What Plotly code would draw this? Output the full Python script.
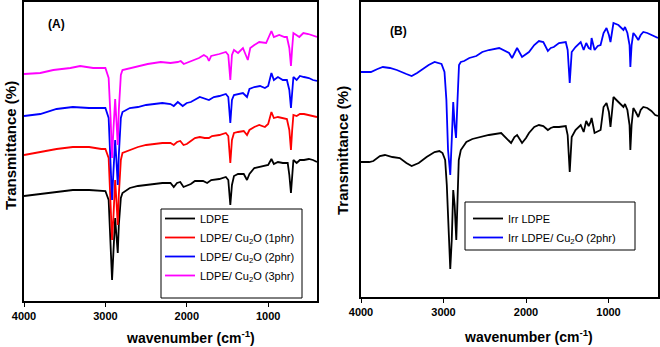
import plotly.graph_objects as go

# ---------------- data (transmittance, arbitrary units, offset spectra) ----------------
# Panel (A)
wn_ldpe = [4000, 3800, 3600, 3400, 3200, 3050, 3000, 2960, 2935, 2918, 2900, 2880, 2865, 2848, 2835, 2810, 2790,
           2700, 2600, 2500, 2400, 2300, 2200, 2160, 2120, 2080, 2040, 2000, 1950, 1900, 1800, 1750, 1700, 1600,
           1520, 1490, 1465, 1445, 1420, 1370, 1300, 1260, 1230, 1170, 1100, 1030, 1000, 960, 930, 880, 820, 760,
           740, 720, 705, 690, 650, 610, 560, 500, 450, 400]
t_ldpe = [104, 106, 108, 110, 110, 109, 109, 100, 60, 20, 50, 82, 65, 47, 75, 102, 107,
          112, 114, 115, 116, 117, 117, 113, 117, 118, 113, 114, 116, 119, 119, 117, 120, 121,
          123, 120, 95, 115, 124, 126, 126, 120, 126, 132, 133, 134, 135, 141, 136, 138, 137, 137,
          125, 107, 125, 140, 137, 140, 140, 141, 140, 138]

wn_cu1 = [4000, 3800, 3600, 3400, 3200, 3050, 3000, 2960, 2935, 2918, 2900, 2880, 2865, 2848, 2835, 2810, 2790,
          2700, 2600, 2500, 2400, 2300, 2200, 2160, 2120, 2080, 2040, 2000, 1950, 1900, 1840, 1780, 1728, 1690,
          1600, 1520, 1490, 1465, 1445, 1420, 1370, 1300, 1260, 1230, 1170, 1110, 1040, 1000, 960, 930, 880, 820,
          770, 740, 720, 705, 690, 650, 610, 560, 500, 450, 400]
t_cu1 = [145, 148, 151, 153, 153, 151, 151, 142, 100, 60, 85, 120, 100, 75, 105, 140, 147,
         150, 153, 155, 156, 157, 157, 155, 158, 159, 155, 156, 159, 162, 163, 162, 162, 164,
         165, 167, 164, 137, 160, 167, 168, 169, 165, 170, 173, 175, 173, 176, 188, 182, 183, 182,
         181, 170, 150, 170, 185, 184, 186, 186, 185, 184, 183]

wn_cu2 = [4000, 3800, 3600, 3400, 3200, 3050, 3000, 2960, 2935, 2918, 2900, 2880, 2865, 2848, 2835, 2810, 2790,
          2700, 2600, 2500, 2400, 2300, 2200, 2160, 2110, 2050, 2000, 1950, 1840, 1780, 1728, 1667, 1600, 1520,
          1490, 1465, 1445, 1420, 1370, 1310, 1260, 1230, 1170, 1100, 1040, 1000, 960, 930, 880, 820, 770,
          740, 720, 705, 690, 650, 610, 560, 500, 450, 400]
t_cu2 = [184, 186, 191, 193, 192, 192, 192, 182, 140, 100, 130, 160, 140, 115, 145, 182, 188,
         192, 193, 195, 196, 197, 196, 194, 198, 194, 197, 198, 203, 201, 200, 203, 204, 206,
         203, 177, 200, 205, 206, 207, 203, 211, 213, 214, 212, 214, 227, 220, 223, 220, 220,
         210, 192, 210, 223, 220, 224, 223, 222, 220, 219]

wn_cu3 = [4000, 3800, 3640, 3430, 3310, 3150, 3000, 2960, 2935, 2918, 2900, 2880, 2865, 2848, 2835, 2810, 2790,
          2650, 2480, 2320, 2200, 2110, 2074, 2037, 1950, 1850, 1790, 1750, 1728, 1700, 1600, 1520, 1490, 1465,
          1445, 1420, 1370, 1310, 1250, 1220, 1170, 1110, 1025, 960, 930, 864, 800, 770, 740, 720, 705, 690,
          617, 568, 506, 432, 400]
t_cu3 = [226, 227, 230, 232, 234, 232, 232, 222, 180, 142, 172, 201, 180, 155, 190, 225, 230,
         233, 236, 238, 237, 238, 239, 236, 239, 242, 245, 243, 239, 244, 246, 248, 245, 220,
         245, 250, 247, 252, 240, 252, 255, 258, 257, 269, 263, 265, 263, 263, 252, 234, 252, 267,
         263, 267, 266, 264, 263]

# Panel (B)
wn_irr = [4000, 3900, 3850, 3771, 3710, 3620, 3530, 3450, 3386, 3300, 3205, 3108, 3050, 3012, 2980, 2960, 2935,
          2918, 2900, 2882, 2865, 2845, 2830, 2815, 2790, 2723, 2650, 2566, 2450, 2301, 2240, 2181, 2140, 2108,
          2070, 2048, 2000, 1964, 1900, 1843, 1790, 1735, 1700, 1663, 1600, 1518, 1495, 1470, 1446, 1400, 1337,
          1301, 1270, 1240, 1217, 1205, 1169, 1130, 1096, 1060, 1024, 995, 976, 955, 940, 880, 840, 819, 800,
          771, 745, 735, 720, 699, 670, 639, 610, 578, 530, 480, 434, 400]
t_irr = [138, 138, 139, 144, 145, 143, 142, 137, 134, 137, 143, 148, 149, 147, 140, 115, 65,
         31, 60, 110, 95, 60, 100, 140, 150, 158, 161, 163, 165, 167, 162, 157, 163, 165,
         160, 157, 162, 167, 173, 175, 174, 170, 172, 173, 173, 174, 165, 128, 163, 170, 175,
         168, 179, 174, 178, 182, 167, 169, 170, 193, 197, 188, 173, 190, 203, 198, 194, 193, 196,
         190, 175, 150, 175, 192, 188, 183, 190, 193, 192, 189, 185, 184]

wn_irr_cu2 = [4000, 3880, 3800, 3735, 3650, 3566, 3450, 3386, 3320, 3253, 3180, 3108, 3050, 3024, 2988, 2965,
              2945, 2918, 2900, 2882, 2865, 2848, 2830, 2812, 2790, 2750, 2687, 2602, 2530, 2450, 2325, 2241,
              2205, 2169, 2108, 2048, 1964, 1900, 1843, 1790, 1735, 1700, 1663, 1600, 1518, 1495, 1470, 1446,
              1400, 1337, 1301, 1270, 1240, 1217, 1205, 1169, 1130, 1096, 1060, 1024, 995, 976, 955, 940, 880,
              840, 819, 800, 771, 745, 735, 720, 699, 670, 639, 610, 578, 530, 480, 434, 400]
t_irr_cu2 = [228, 228, 231, 233, 232, 230, 226, 224, 227, 231, 235, 238, 237, 236, 228, 200,
             150, 125, 160, 198, 175, 162, 200, 235, 238, 239, 242, 244, 248, 250, 252, 248,
             247, 242, 252, 243, 248, 255, 259, 258, 249, 252, 253, 257, 258, 250, 217, 248,
             253, 258, 250, 257, 252, 251, 262, 250, 254, 255, 267, 272, 265, 258, 270, 277, 275,
             272, 270, 273, 267, 255, 233, 255, 267, 264, 260, 265, 268, 267, 265, 263, 262]

tick_vals = [4000, 3000, 2000, 1000]
tick_text = ["4000", "3000", "2000", "1000"]

names_a = ["LDPE", "LDPE/ Cu<sub>2</sub>O (1phr)", "LDPE/ Cu<sub>2</sub>O (2phr)", "LDPE/ Cu<sub>2</sub>O (3phr)"]
names_b = ["Irr LDPE", "Irr LDPE/ Cu<sub>2</sub>O (2phr)"]

# ---------------- figure ----------------
W, H = 660, 347
FONT = "Liberation Sans, Arial, sans-serif"


def fx(p):
    return p / W


def fy(p):
    return 1 - p / H


fig = go.Figure()
series_a = [(wn_ldpe, t_ldpe, "#000000"), (wn_cu1, t_cu1, "#ff0000"),
            (wn_cu2, t_cu2, "#0000ff"), (wn_cu3, t_cu3, "#ff00ff")]
for (wx, ty, col), nm in zip(series_a, names_a):
    fig.add_trace(go.Scatter(x=wx, y=ty, mode="lines", name=nm, line=dict(color=col, width=1.8),
                             xaxis="x", yaxis="y", legend="legend"))
series_b = [(wn_irr, t_irr, "#000000"), (wn_irr_cu2, t_irr_cu2, "#0000ff")]
for (wx, ty, col), nm in zip(series_b, names_b):
    fig.add_trace(go.Scatter(x=wx, y=ty, mode="lines", name=nm, line=dict(color=col, width=1.8),
                             xaxis="x2", yaxis="y2", legend="legend2"))

xcommon = dict(range=[4000, 400], tickvals=tick_vals, ticktext=tick_text, ticks="outside", ticklen=4,
               tickwidth=1, tickcolor="black", showline=True, linecolor="black", linewidth=1.5, mirror=True,
               showgrid=False, zeroline=False, automargin=False,
               tickfont=dict(family=FONT, size=11, color="black", weight="bold"))
ycommon = dict(showticklabels=False, ticks="", showline=True, linecolor="black", linewidth=1.5, mirror=True,
               showgrid=False, zeroline=False, automargin=False)

fig.update_layout(
    width=W, height=H, margin=dict(l=0, r=0, t=0, b=0, autoexpand=False),
    paper_bgcolor="white", plot_bgcolor="white",
    font=dict(family=FONT, color="black"),
    xaxis=dict(domain=[fx(24), fx(317)], anchor="y", **xcommon),
    yaxis=dict(domain=[fy(301), fy(2)], anchor="x", range=[-1, 298], **ycommon),
    xaxis2=dict(domain=[fx(361), fx(658)], anchor="y2", **xcommon),
    yaxis2=dict(domain=[fy(297), fy(2)], anchor="x2", range=[3, 298], **ycommon),
    legend=dict(x=fx(160), y=fy(204), xanchor="left", yanchor="top", bgcolor="rgba(0,0,0,0)",
                borderwidth=0, font=dict(family=FONT, size=11, color="black")),
    legend2=dict(x=fx(468), y=fy(204), xanchor="left", yanchor="top", bgcolor="rgba(0,0,0,0)",
                 borderwidth=0, font=dict(family=FONT, size=11, color="black")),
    showlegend=True,
)

# legend frames
fig.add_shape(type="rect", xref="paper", yref="paper", x0=fx(161), x1=fx(302), y0=fy(298), y1=fy(209),
              line=dict(color="black", width=1))
fig.add_shape(type="rect", xref="paper", yref="paper", x0=fx(465), x1=fx(635), y0=fy(250), y1=fy(202),
              line=dict(color="black", width=1))

xt_font = dict(family=FONT, size=14, color="black", weight="bold")
yt_font = dict(family=FONT, size=15, color="black", weight="bold")
lab_font = dict(family=FONT, size=12, color="black", weight="bold")
annotations = [
    dict(text="(A)", x=fx(56), y=fy(24), font=lab_font),
    dict(text="(B)", x=fx(398), y=fy(31), font=lab_font),
    dict(text="wavenumber (cm<sup>-1</sup>)", x=fx(190), y=fy(337), font=xt_font),
    dict(text="wavenumber (cm<sup>-1</sup>)", x=fx(528), y=fy(336), font=xt_font),
    dict(text="Transmittance (%)", x=fx(10), y=fy(146), textangle=-90, font=yt_font),
    dict(text="Transmittance (%)", x=fx(342), y=fy(151), textangle=-90, font=yt_font),
]
for a in annotations:
    fig.add_annotation(xref="paper", yref="paper", showarrow=False, xanchor="center", yanchor="middle", **a)

fig.write_html("out.html", config={"displayModeBar": False},
               post_script="document.body.style.margin='0';document.body.style.overflow='hidden';")
